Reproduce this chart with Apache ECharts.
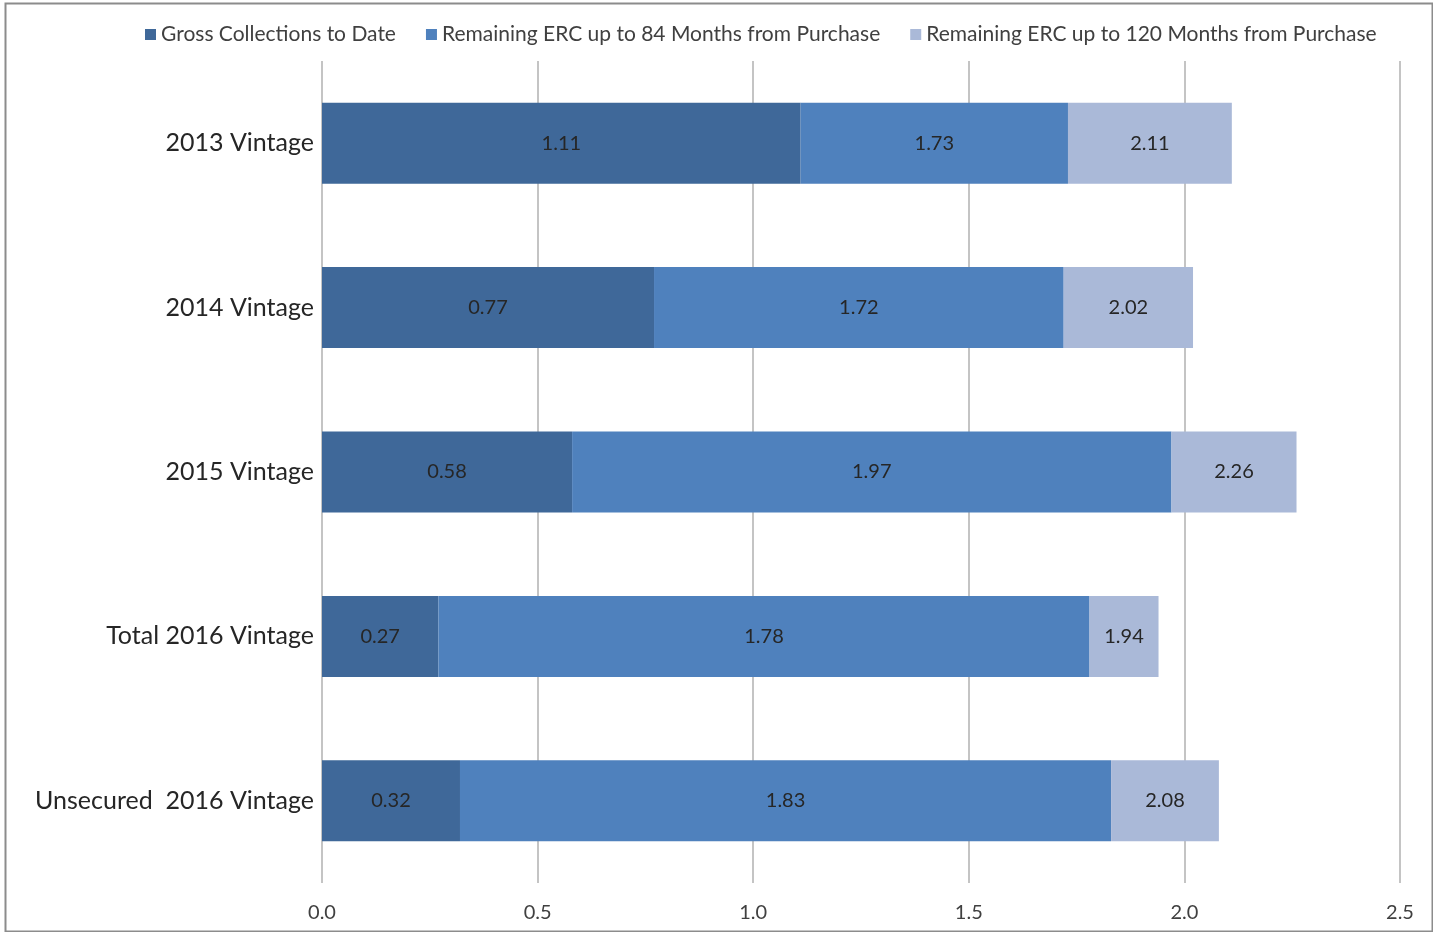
<!DOCTYPE html>
<html>
<head>
<meta charset="utf-8">
<title>Collections multiple by vintage</title>
<script src="https://cdn.jsdelivr.net/npm/echarts@6/dist/echarts.min.js"></script>
<style>
  html, body { margin: 0; padding: 0; background: #ffffff; }
  #chart { width: 1433px; height: 932px; }
</style>
</head>
<body>
<div id="chart"></div>
<script>
// Vintages, top to bottom
const categories = ['2013 Vintage', '2014 Vintage', '2015 Vintage', 'Total 2016 Vintage', 'Unsecured  2016 Vintage'];

// Cumulative multiples (value at the right end of each segment)
const grossToDate = [1.11, 0.77, 0.58, 0.27, 0.32];
const erc84Cumulative = [1.73, 1.72, 1.97, 1.78, 1.83];
const erc120Cumulative = [2.11, 2.02, 2.26, 1.94, 2.08];

const seriesNames = [
  'Gross Collections to Date',
  'Remaining ERC up to 84 Months from Purchase',
  'Remaining ERC up to 120 Months from Purchase'
];

const xTicks = [0, 0.5, 1.0, 1.5, 2.0, 2.5];

// Segment lengths for stacking, derived from the cumulative values
const round2 = v => Math.round(v * 100) / 100;
const seg84 = erc84Cumulative.map((v, i) => round2(v - grossToDate[i]));
const seg120 = erc120Cumulative.map((v, i) => round2(v - erc84Cumulative[i]));
const cumulativeBySeries = [grossToDate, erc84Cumulative, erc120Cumulative];

const colors = ['#3F6899', '#4F81BD', '#AAB9D8'];
const FONT = 'Lato, "Open Sans", sans-serif';

function makeSeries(idx, data) {
  return {
    name: seriesNames[idx],
    type: 'bar',
    stack: 'total',
    barWidth: 81,
    data: data,
    itemStyle: { color: colors[idx] },
    label: {
      show: true,
      position: 'inside',
      color: '#262626',
      fontFamily: FONT,
      fontSize: 20,
      formatter: p => cumulativeBySeries[idx][p.dataIndex].toFixed(2)
    },
    emphasis: { disabled: true }
  };
}

const chart = echarts.init(document.getElementById('chart'), null, { renderer: 'canvas' });

chart.setOption({
  animation: false,
  backgroundColor: '#ffffff',
  color: colors,
  graphic: [{
    type: 'rect',
    left: 3, top: 1,
    shape: { width: 1427, height: 928 },
    style: { fill: 'none', stroke: '#8C8C8C', lineWidth: 2 },
    silent: true
  }],
  legend: {
    top: 19,
    left: 140,
    icon: 'rect',
    itemWidth: 11,
    itemHeight: 11,
    itemGap: 30,
    itemStyle: { borderWidth: 0 },
    textStyle: { color: '#404040', fontFamily: FONT, fontSize: 21, padding: [0, 0, 0, 0] },
    data: seriesNames
  },
  grid: {
    left: 322,
    right: 33,
    top: 61,
    bottom: 49,
    containLabel: false
  },
  xAxis: {
    type: 'value',
    min: 0,
    max: 2.5,
    interval: 0.5,
    axisLine: { show: false },
    axisTick: { show: false },
    splitLine: { show: true, lineStyle: { color: '#C4C4C4', width: 2 } },
    axisLabel: {
      color: '#404040',
      fontFamily: FONT,
      fontSize: 20,
      margin: 20,
      formatter: v => xTicks.includes(v) ? v.toFixed(1) : ''
    }
  },
  yAxis: {
    type: 'category',
    inverse: true,
    data: categories,
    axisLine: { show: false },
    axisTick: { show: false },
    axisLabel: {
      color: '#262626',
      fontFamily: FONT,
      fontSize: 25,
      margin: 8,
      padding: [0, 0, 10, 0]
    }
  },
  series: [
    makeSeries(0, grossToDate),
    makeSeries(1, seg84),
    makeSeries(2, seg120)
  ]
});
</script>
</body>
</html>
